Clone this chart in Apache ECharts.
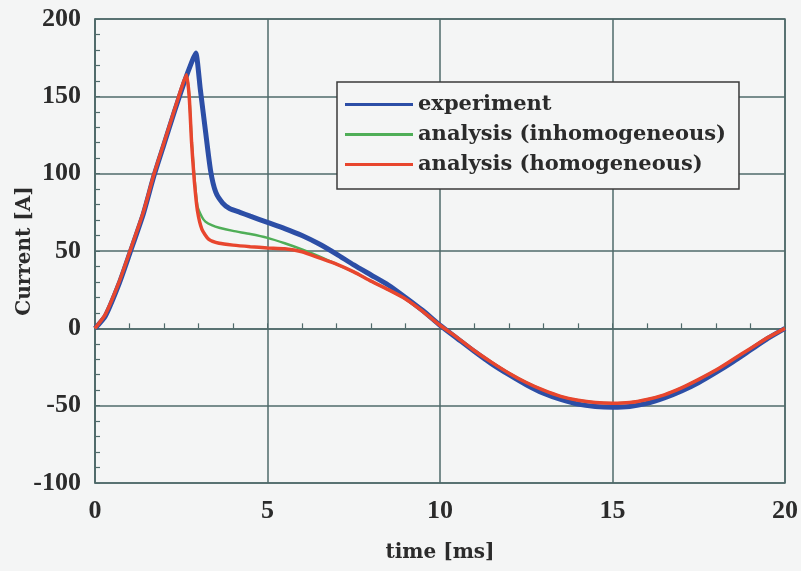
<!DOCTYPE html>
<html>
<head>
<meta charset="utf-8">
<script src="https://cdn.jsdelivr.net/npm/echarts@6/dist/echarts.min.js"></script>
<style>
  html, body { margin: 0; padding: 0; background: #f4f5f5; }
  #chart { width: 801px; height: 571px; }
</style>
</head>
<body>
<div id="chart"></div>
<script>
// Measured current waveform [ms, A]
const expTime = [0, 0.3, 0.7, 1.0, 1.4, 1.7, 2.0, 2.3, 2.6, 2.8, 2.92, 3.05, 3.2, 3.35, 3.5, 3.7, 3.9, 4.2, 4.5, 5.0, 5.5, 6.0, 6.5, 7.0, 7.5, 8.0, 8.5, 9.0, 9.5, 10.0, 10.5, 11.0, 11.5, 12.0, 12.5, 13.0, 13.5, 14.0, 14.5, 15.0, 15.5, 16.0, 16.5, 17.0, 17.5, 18.0, 18.5, 19.0, 19.5, 20.0];
const expCurrent = [0, 8, 29, 48, 74, 98, 119, 140, 160, 172, 178, 155, 128, 102, 88, 81, 77.5, 75, 72.5, 68.5, 64.5, 60, 54.5, 48, 41, 34.5, 28, 20, 11.5, 2, -6.5, -15, -23, -30, -36.5, -42, -46, -49, -50.5, -51, -50.5, -48.5, -45, -40.5, -35, -28.5, -21.5, -14, -6.5, 0];

// Analysis with inhomogeneous model
const inhTime = [0, 0.3, 0.7, 1.0, 1.4, 1.7, 2.0, 2.3, 2.5, 2.65, 2.73, 2.8, 2.88, 2.97, 3.1, 3.2, 3.4, 3.6, 4.0, 4.5, 5.0, 5.5, 6.0, 6.5, 7.0, 7.5, 8.0, 8.5, 9.0, 9.5, 10.0, 10.5, 11.0, 11.5, 12.0, 12.5, 13.0, 13.5, 14.0, 14.5, 15.0, 15.5, 16.0, 16.5, 17.0, 17.5, 18.0, 18.5, 19.0, 19.5, 20.0];
const inhCurrent = [0, 9, 30, 49, 75, 99, 120, 141, 155, 164, 151, 122, 98, 79, 72, 69, 66.5, 65, 63, 61, 58.5, 55, 51, 46.5, 41.5, 36.5, 30.5, 25, 19, 11, 2, -6, -14.5, -22, -29, -35, -40, -44, -46.5, -48, -48.5, -48, -46, -43, -38.5, -33, -27, -20, -13, -6, 0];

// Analysis with homogeneous model
const homTime = [0, 0.3, 0.7, 1.0, 1.4, 1.7, 2.0, 2.3, 2.5, 2.65, 2.73, 2.8, 2.88, 2.97, 3.1, 3.3, 3.6, 4.0, 4.5, 5.0, 5.5, 6.0, 6.5, 7.0, 7.5, 8.0, 8.5, 9.0, 9.5, 10.0, 10.5, 11.0, 11.5, 12.0, 12.5, 13.0, 13.5, 14.0, 14.5, 15.0, 15.5, 16.0, 16.5, 17.0, 17.5, 18.0, 18.5, 19.0, 19.5, 20.0];
const homCurrent = [0, 9, 30, 49, 75, 99, 120, 141, 155, 164, 150, 120, 95, 76, 64, 57.5, 55, 53.8, 52.8, 52, 51.5, 49.5, 45.5, 41.5, 36.5, 30.5, 25, 19, 11, 2, -6, -14.5, -22, -29, -35, -40, -44, -46.5, -48, -48.5, -48, -46, -43, -38.5, -33, -27, -20, -13, -6, 0];

const seriesNames = ['experiment', 'analysis (inhomogeneous)', 'analysis (homogeneous)'];
const xTicks = { min: 0, max: 20, step: 5 };
const yTicks = { min: -100, max: 200, step: 50 };

const pairs = (xs, ys) => xs.map((x, i) => [x, ys[i]]);

const serif = '"Liberation Serif", "DejaVu Serif", serif';
const wideSerif = '"DejaVu Serif", "Liberation Serif", serif';
const gridColor = '#4f6a6a';
const textColor = '#2b2b2b';

const chart = echarts.init(document.getElementById('chart'));
chart.setOption({
  backgroundColor: '#f4f5f5',
  animation: false,
  grid: {
    left: 95, right: 16, top: 19, bottom: 88,
    outerBoundsMode: 'none',
    show: true, borderColor: gridColor, borderWidth: 1.5, backgroundColor: 'transparent'
  },
  legend: {
    orient: 'vertical',
    left: 337, top: 82,
    data: seriesNames,
    icon: 'rect',
    itemWidth: 68, itemHeight: 3,
    itemGap: 9,
    padding: [12, 13, 14, 8],
    borderColor: '#3a3a3a', borderWidth: 1.5,
    backgroundColor: '#f4f5f5',
    textStyle: { fontFamily: wideSerif, fontWeight: 'bold', fontSize: 21, color: textColor }
  },
  xAxis: {
    type: 'value',
    min: xTicks.min, max: xTicks.max, interval: xTicks.step,
    name: 'time [ms]', nameLocation: 'middle', nameGap: 60, nameMoveOverlap: false,
    nameTextStyle: { fontFamily: wideSerif, fontWeight: 'bold', fontSize: 20, color: textColor },
    axisLine: { lineStyle: { color: gridColor, width: 1.5 } },
    axisTick: { show: true, inside: true, length: 5, lineStyle: { color: gridColor } },
    minorTick: { show: true, splitNumber: 5, length: 5, lineStyle: { color: gridColor, width: 1.2 } },
    axisLabel: { fontFamily: serif, fontWeight: 'bold', fontSize: 26, color: textColor, margin: 15 },
    splitLine: { show: true, lineStyle: { color: gridColor, width: 1.5 } }
  },
  yAxis: {
    type: 'value',
    min: yTicks.min, max: yTicks.max, interval: yTicks.step,
    name: 'Current [A]', nameLocation: 'middle', nameGap: 60, nameMoveOverlap: false,
    nameTextStyle: { fontFamily: wideSerif, fontWeight: 'bold', fontSize: 20, color: textColor },
    axisLine: { lineStyle: { color: gridColor, width: 1.5 } },
    axisTick: { show: true, inside: true, length: 5, lineStyle: { color: gridColor } },
    minorTick: { show: true, splitNumber: 5, length: 5, lineStyle: { color: gridColor, width: 1.2 } },
    axisLabel: { fontFamily: serif, fontWeight: 'bold', fontSize: 26, color: textColor, margin: 14 },
    splitLine: { show: true, lineStyle: { color: gridColor, width: 1.5 } }
  },
  series: [
    {
      name: seriesNames[0], type: 'line', data: pairs(expTime, expCurrent),
      showSymbol: false, smooth: 0.2, z: 2,
      color: '#2c4ea6',
      lineStyle: { color: '#2c4ea6', width: 5 }
    },
    {
      name: seriesNames[1], type: 'line', data: pairs(inhTime, inhCurrent),
      showSymbol: false, smooth: 0.2, z: 3,
      color: '#4fae57',
      lineStyle: { color: '#4fae57', width: 2.5 }
    },
    {
      name: seriesNames[2], type: 'line', data: pairs(homTime, homCurrent),
      showSymbol: false, smooth: 0.2, z: 4,
      color: '#e8462e',
      lineStyle: { color: '#e8462e', width: 3.5 }
    }
  ]
});
</script>
</body>
</html>
